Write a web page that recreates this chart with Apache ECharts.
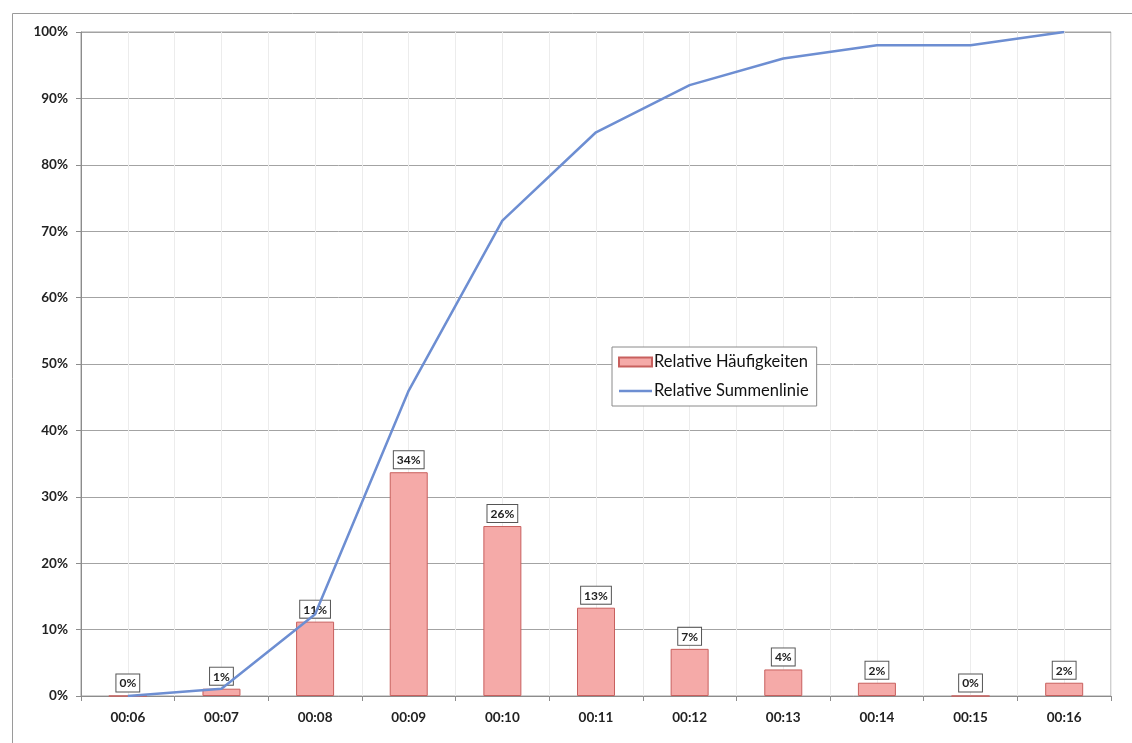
<!DOCTYPE html>
<html>
<head>
<meta charset="utf-8">
<script src="https://cdn.jsdelivr.net/npm/echarts@6/dist/echarts.min.js"></script>
<style>
  html, body { margin: 0; padding: 0; background: #fff; }
  #chart { width: 1132px; height: 743px; }
</style>
</head>
<body>
<div id="chart"></div>
<script>
// Zeitklassen (Kategorien)
const categories = ['00:06', '00:07', '00:08', '00:09', '00:10', '00:11', '00:12', '00:13', '00:14', '00:15', '00:16'];
// relative Häufigkeiten in %
const relHaeufigkeit = [0, 1.1, 11.2, 33.7, 25.6, 13.3, 7.1, 4.0, 2.0, 0, 2.0];
// relative Summenlinie in %
const relSumme = [0, 1.1, 12.3, 46.0, 71.6, 84.9, 92.0, 96.0, 98.0, 98.0, 100.0];
const yTicks = [0, 10, 20, 30, 40, 50, 60, 70, 80, 90, 100];

// feine Hilfslinien (halbe Kategorien) - nur für das Gitter
const halfSteps = categories.flatMap((c) => [c + 'a', c + 'b']);

const chart = echarts.init(document.getElementById('chart'));

const font = 'Lato, "Open Sans", sans-serif';

const option = {
  backgroundColor: '#fff',
  animation: false,
  textStyle: { fontFamily: font },
  graphic: [
    {
      type: 'rect',
      shape: { x: 12.5, y: 13.5, width: 1140, height: 760 },
      style: { fill: 'none', stroke: '#9a9a9a', lineWidth: 1 },
      z: -1,
    },
  ],
  grid: {
    left: 81,
    right: 21,
    top: 32,
    bottom: 47,
    show: true,
    borderColor: '#a0a0a0',
    borderWidth: 1,
  },
  legend: {
    orient: 'vertical',
    left: 612,
    top: 347,
    padding: [5, 8, 5, 6],
    itemGap: 9,
    itemWidth: 33,
    itemHeight: 9,
    symbolKeepAspect: true,
    borderColor: '#8a8a8a',
    borderWidth: 1,
    backgroundColor: '#fff',
    textStyle: { fontFamily: font, fontSize: 16.5, color: '#111', padding: [0, 0, 0, -3], lineHeight: 20 },
    data: [
      { name: 'Relative Häufigkeiten', icon: 'rect' },
      {
        name: 'Relative Summenlinie',
        icon: 'path://M0,0 L33,0 L33,2.6 L0,2.6 Z',
        itemStyle: { color: '#6d8ed2', borderWidth: 0 },
      },
    ],
  },
  xAxis: [
    {
      type: 'category',
      data: categories,
      boundaryGap: true,
      axisLine: { lineStyle: { color: '#8c8c8c', width: 1 } },
      axisTick: { show: true, length: 5, interval: 0, lineStyle: { color: '#8c8c8c' } },
      axisLabel: { margin: 15, fontSize: 13.5, fontWeight: 'bold', color: '#222', fontFamily: font, interval: 0 },
      splitLine: { show: false },
    },
    {
      type: 'category',
      data: halfSteps,
      position: 'bottom',
      boundaryGap: true,
      axisLine: { show: false },
      axisTick: { show: false },
      axisLabel: { show: false },
      splitLine: { show: true, interval: 0, lineStyle: { color: '#ececec', width: 1 } },
    },
  ],
  yAxis: {
    type: 'value',
    min: 0,
    max: 100,
    interval: 10,
    axisLine: { show: true, lineStyle: { color: '#8c8c8c' } },
    axisTick: { show: true, length: 5, lineStyle: { color: '#8c8c8c' } },
    axisLabel: {
      margin: 13,
      fontSize: 13.5,
      fontWeight: 'bold',
      color: '#222',
      fontFamily: font,
      formatter: (v) => (yTicks.includes(v) ? v + '%' : ''),
    },
    splitLine: { show: true, lineStyle: { color: '#a3a3a3', width: 1 } },
  },
  series: [
    {
      name: 'Relative Häufigkeiten',
      type: 'bar',
      xAxisIndex: 0,
      data: relHaeufigkeit,
      barWidth: 38,
      itemStyle: { color: '#f5aaa8', borderColor: '#c8605e', borderWidth: 1 },
      label: {
        show: true,
        position: 'top',
        distance: 4,
        formatter: (p) => Math.round(p.value) + '%',
        fontFamily: font,
        fontSize: 12,
        fontWeight: 'bold',
        color: '#222',
        backgroundColor: '#fff',
        borderColor: '#555',
        borderWidth: 1,
        padding: [3, 3, 2, 3],
      },
      z: 2,
    },
    {
      name: 'Relative Summenlinie',
      type: 'line',
      xAxisIndex: 0,
      data: relSumme,
      symbol: 'none',
      smooth: false,
      lineStyle: { color: '#6d8ed2', width: 2.5 },
      itemStyle: { color: '#6d8ed2' },
      z: 3,
    },
  ],
};

chart.setOption(option);
</script>
</body>
</html>
